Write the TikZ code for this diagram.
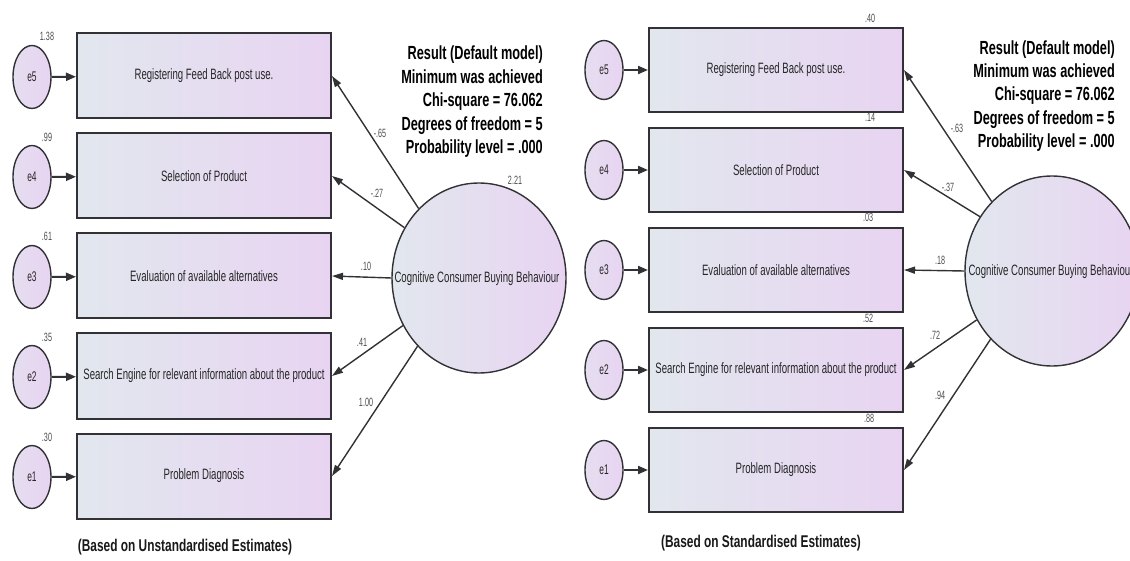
\documentclass[tikz,border=0pt]{standalone}
\usepackage{fontspec}
\setmainfont{Liberation Sans}
\newfontfamily\nrw[FakeStretch=0.64]{Liberation Sans}
\newfontfamily\nrwsm[FakeStretch=0.6]{Liberation Sans}
\newfontfamily\nrwbf[FakeStretch=0.67]{Liberation Sans}
\newfontfamily\nrwcap[FakeStretch=0.70]{Liberation Sans}
\usetikzlibrary{shapes.geometric,arrows.meta}
\definecolor{shL}{RGB}{226,231,238}
\definecolor{shR}{RGB}{232,212,242}
\definecolor{bord}{RGB}{50,50,54}
\tikzset{
 ind/.style={rectangle, draw=bord, line width=2pt, left color=shL, right color=shR,
   minimum width=254pt, minimum height=85pt, inner sep=0pt,
   font=\nrw\fontsize{15}{17}\selectfont, text=black!85},
 err/.style={ellipse, draw=bord, line width=1.4pt, left color=shL!50!shR, right color=shR,
   minimum width=38pt, minimum height=63pt, inner sep=0pt,
   font=\nrwsm\fontsize{14}{16}\selectfont, text=black!85},
 lat/.style={ellipse, draw=bord, line width=1.4pt, left color=shL, right color=shR,
   minimum width=174pt, minimum height=190pt, inner sep=0pt},
 lattext/.style={font=\nrw\fontsize{15}{17}\selectfont, inner sep=0pt, text=black!85},
 num/.style={font=\nrwsm\fontsize{12}{14}\selectfont, text=black!70, inner sep=0pt},
 stat/.style={font=\nrwbf\bfseries\fontsize{19}{23.5}\selectfont, align=right, inner sep=0pt, anchor=east},
 capt/.style={font=\nrwcap\bfseries\fontsize{17}{20}\selectfont, inner sep=0pt, text=black!90},
 erra/.style={line width=2pt, draw=bord, -{Triangle[length=10pt,width=8pt]}},
 load/.style={line width=1.4pt, draw=bord, -{Triangle[length=11pt,width=7pt]}},
}
\begin{document}
\begin{tikzpicture}[x=1pt,y=-1pt]
\useasboundingbox (0,0) rectangle (1130,561);
\clip (0,0) rectangle (1130,561);
% ---------------- left panel ----------------
\node[ind] (L5) at (204,76) {Registering Feed Back post use.};
\node[ind] (L4) at (204,176) {Selection of Product};
\node[ind] (L3) at (204,276) {Evaluation of available alternatives};
\node[ind] (L2) at (204,376) {Search Engine for relevant information about the product};
\node[ind] (L1) at (204,476) {Problem Diagnosis};
\node[err] (Le5) at (32,77) {e5};
\node[err] (Le4) at (32,177) {e4};
\node[err] (Le3) at (32,277) {e3};
\node[err] (Le2) at (32,377) {e2};
\node[err] (Le1) at (32,477) {e1};
\draw[erra] (Le5) -- (L5);
\draw[erra] (Le4) -- (L4);
\draw[erra] (Le3) -- (L3);
\draw[erra] (Le2) -- (L2);
\draw[erra] (Le1) -- (L1);
\node[num] (Lv5) at (47,36) {1.38};
\node[num] (Lv4) at (47,137) {.99};
\node[num] (Lv3) at (47,236) {.61};
\node[num] (Lv2) at (47,337) {.35};
\node[num] (Lv1) at (47,437) {.30};
\node[lat] (LC) at (479,278) {};
\node[lattext] (LCt) at (477,279) {Cognitive Consumer Buying Behaviour};
\node[num] (LCv) at (515,180) {2.21};
\draw[load] (LC.131) -- (L5.east);
\draw[load] (LC.146) -- (L4.east);
\draw[load] (LC.180) -- (L3.east);
\draw[load] (LC.212) -- (L2.east);
\draw[load] (LC.228) -- (L1.east);
\node[num] (Lw5) at (380,133) {-.65};
\node[num] (Lw4) at (377,193) {-.27};
\node[num] (Lw3) at (366,266) {.10};
\node[num] (Lw2) at (362,342) {.41};
\node[num] (Lw1) at (366,402) {1.00};
\node[stat] (LS) at (543,102) {Result (Default model)\\Minimum was achieved\\Chi-square = 76.062\\Degrees of freedom = 5\\Probability level = .000};
\node[capt] (LT) at (185,547) {(Based on Unstandardised Estimates)};
% ---------------- right panel ----------------
\node[ind, minimum height=84pt] (R5) at (776,70) {Registering Feed Back post use.};
\node[ind, minimum height=84pt] (R4) at (776,170) {Selection of Product};
\node[ind, minimum height=84pt] (R3) at (776,270) {Evaluation of available alternatives};
\node[ind, minimum height=84pt] (R2) at (776,370) {Search Engine for relevant information about the product};
\node[ind, minimum height=84pt] (R1) at (776,470) {Problem Diagnosis};
\node[err, minimum height=59pt] (Re5) at (604,70) {e5};
\node[err, minimum height=59pt] (Re4) at (604,170) {e4};
\node[err, minimum height=59pt] (Re3) at (604,270) {e3};
\node[err, minimum height=59pt] (Re2) at (604,370) {e2};
\node[err, minimum height=59pt] (Re1) at (604,470) {e1};
\draw[erra] (Re5) -- (R5);
\draw[erra] (Re4) -- (R4);
\draw[erra] (Re3) -- (R3);
\draw[erra] (Re2) -- (R2);
\draw[erra] (Re1) -- (R1);
\node[num] (Rv5) at (870,18) {.40};
\node[num] (Rv4) at (870,117) {.14};
\node[num] (Rv3) at (868,217) {.03};
\node[num] (Rv2) at (868,318) {.52};
\node[num] (Rv1) at (869,418) {.88};
\node[lat] (RC) at (1052,271) {};
\node[lattext] (RCt) at (1051,272) {Cognitive Consumer Buying Behaviour};
\draw[load] (RC.131) -- (R5.east);
\draw[load] (RC.143) -- (R4.east);
\draw[load] (RC.180) -- (R3.east);
\draw[load] (RC.213) -- (R2.east);
\draw[load] (RC.228) -- (R1.east);
\node[num] (Rw5) at (957,128) {-.63};
\node[num] (Rw4) at (948,187) {-.37};
\node[num] (Rw3) at (940,260) {.18};
\node[num] (Rw2) at (935,335) {.72};
\node[num] (Rw1) at (940,395) {.94};
\node[stat, font=\nrwbf\bfseries\fontsize{19}{23.25}\selectfont] (RS) at (1115,96) {Result (Default model)\\Minimum was achieved\\Chi-square = 76.062\\Degrees of freedom = 5\\Probability level = .000};
\node[capt] (RT) at (761,543) {(Based on Standardised Estimates)};
\end{tikzpicture}
\end{document}
